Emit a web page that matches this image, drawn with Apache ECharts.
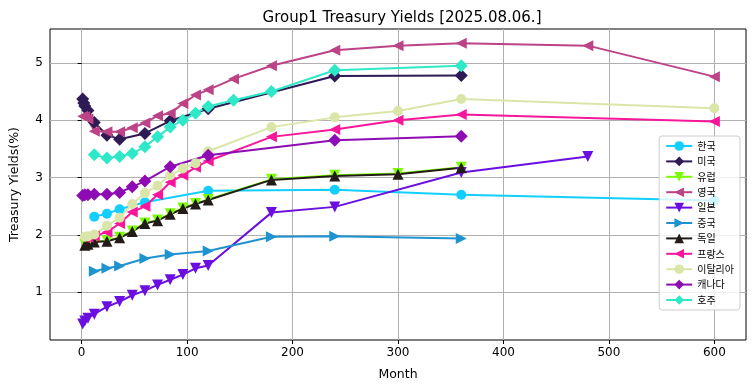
<!DOCTYPE html>
<html>
<head>
<meta charset="utf-8">
<script src="https://cdn.jsdelivr.net/npm/echarts@6/dist/echarts.min.js"></script>
<style>
html,body{margin:0;padding:0;background:#fff;}
#chart{width:755px;height:391px;}
</style>
</head>
<body>
<div id="chart"></div>
<script>
// ---- data (months, yields %) ----
const seriesNames = ['한국','미국','유럽','영국','일본','중국','독일','프랑스','이탈리아','캐나다','호주'];

const krMonths = [12,24,36,60,120,240,360,600];
const krYields = [2.32,2.37,2.45,2.57,2.77,2.79,2.70,2.60];

const usMonths = [1,2,3,6,12,24,36,60,84,120,240,360];
const usYields = [4.37,4.30,4.25,4.17,3.96,3.74,3.67,3.77,3.99,4.20,4.77,4.78];

const euMonths = [3,6,12,24,36,48,60,72,84,96,108,120,180,240,300,360];
const euYields = [1.84,1.85,1.89,1.90,1.96,2.07,2.21,2.26,2.37,2.47,2.55,2.62,2.97,3.04,3.07,3.18];

const ukMonths = [1,3,6,12,24,36,48,60,72,84,96,108,120,144,180,240,300,360,480,600];
const ukYields = [4.07,4.06,4.02,3.81,3.80,3.80,3.87,3.95,4.08,4.12,4.29,4.44,4.53,4.72,4.95,5.22,5.30,5.34,5.30,4.76];

const jpMonths = [1,3,6,12,24,36,48,60,72,84,96,108,120,180,240,360,480];
const jpYields = [0.45,0.50,0.55,0.62,0.75,0.84,0.95,1.03,1.13,1.22,1.31,1.42,1.47,2.39,2.49,3.09,3.37];

const cnMonths = [12,24,36,60,84,120,180,240,360];
const cnYields = [1.37,1.42,1.46,1.59,1.66,1.72,1.97,1.98,1.94];

const deMonths = [3,6,12,24,36,48,60,72,84,96,108,120,180,240,300,360];
const deYields = [1.82,1.84,1.88,1.89,1.95,2.06,2.20,2.25,2.36,2.46,2.54,2.61,2.96,3.03,3.06,3.17];

const frMonths = [3,6,12,24,36,48,60,72,84,96,108,120,180,240,300,360,600];
const frYields = [1.95,1.96,1.98,2.05,2.20,2.40,2.50,2.70,2.92,3.04,3.18,3.29,3.71,3.84,4.00,4.10,3.98];

const itMonths = [3,6,12,24,36,48,60,72,84,96,108,120,180,240,300,360,600];
const itYields = [1.97,1.98,2.01,2.16,2.30,2.54,2.73,2.86,3.04,3.16,3.25,3.46,3.88,4.05,4.16,4.37,4.21];

const caMonths = [1,3,6,12,24,36,48,60,84,120,240,360];
const caYields = [2.69,2.70,2.70,2.71,2.71,2.74,2.84,2.94,3.19,3.39,3.65,3.72];

const auMonths = [12,24,36,48,60,72,84,96,108,120,144,180,240,360];
const auYields = [3.40,3.34,3.37,3.42,3.54,3.71,3.88,4.00,4.12,4.24,4.35,4.50,4.87,4.95];

const xTicks = [0,100,200,300,400,500,600];
const yTicks = [1,2,3,4,5];

// ---- styles ----
const colors = ['#12CFFF','#2E1A55','#7CFC00','#BC4386','#6A0FDF','#1F93CF','#231B18','#F7169C','#D9E6A8','#8E0CB4','#2EE8C8'];
const symbols = ['circle','diamond','triangle','triangle','triangle','triangle','triangle','triangle','circle','diamond','diamond'];
const rotates = [0,0,180,90,180,-90,0,90,0,0,0];
const sizes = [10,13,11,11,11,11,11,11,10,13,13];

const monthsAll = [krMonths,usMonths,euMonths,ukMonths,jpMonths,cnMonths,deMonths,frMonths,itMonths,caMonths,auMonths];
const yieldsAll = [krYields,usYields,euYields,ukYields,jpYields,cnYields,deYields,frYields,itYields,caYields,auYields];

const series = seriesNames.map((name, i) => ({
  name: name,
  type: 'line',
  data: monthsAll[i].map((m, k) => [m, yieldsAll[i][k]]),
  symbol: symbols[i],
  symbolRotate: rotates[i],
  symbolSize: sizes[i],
  showAllSymbol: true,
  animation: false,
  lineStyle: {color: colors[i], width: 2},
  itemStyle: {color: colors[i]},
  emphasis: {disabled: true}
}));

const font = 'DejaVu Sans';
const chart = echarts.init(document.getElementById('chart'), null, {renderer: 'canvas'});
chart.setOption({
  animation: false,
  color: colors,
  title: {
    text: 'Group1 Treasury Yields [2025.08.06.]',
    left: 397, textAlign: 'center', top: 6,
    textStyle: {fontFamily: font, fontSize: 15, fontWeight: 'normal', color: '#000'}
  },
  legend: {
    orient: 'vertical',
    right: 15, top: 136,
    itemWidth: 26, itemHeight: 12, itemGap: 5.4,
    padding: [5, 6, 5, 6],
    borderColor: '#cccccc', borderWidth: 1, borderRadius: 3,
    backgroundColor: 'rgba(255,255,255,0.8)',
    textStyle: {fontFamily: 'Noto Sans CJK KR', fontSize: 10, color: '#000'},
    data: seriesNames
  },
  grid: {
    left: 48, right: 9, top: 29, bottom: 51,
    show: true, borderColor: '#000', borderWidth: 1, backgroundColor: 'transparent'
  },
  xAxis: {
    type: 'value', min: -30, max: 630,
    name: 'Month', nameLocation: 'middle', nameGap: 28,
    nameTextStyle: {fontFamily: font, fontSize: 12.5, color: '#000'},
    axisLine: {show: false},
    axisTick: {show: true, length: 4, lineStyle: {color: '#000'}, customValues: xTicks},
    axisLabel: {fontFamily: font, fontSize: 12, color: '#000', margin: 7, customValues: xTicks},
    splitLine: {show: true, lineStyle: {color: '#b0b0b0', width: 1}}
  },
  yAxis: {
    type: 'value', min: 0.17, max: 5.59,
    name: 'Treasury Yields(%)', nameLocation: 'middle', nameGap: 29,
    nameTextStyle: {fontFamily: font, fontSize: 12.5, color: '#000'},
    axisLine: {show: false},
    axisTick: {show: true, length: 4, lineStyle: {color: '#000'}, customValues: yTicks},
    axisLabel: {fontFamily: font, fontSize: 12, color: '#000', margin: 7, customValues: yTicks},
    splitLine: {show: true, lineStyle: {color: '#b0b0b0', width: 1}}
  },
  series: series
});
</script>
</body>
</html>
